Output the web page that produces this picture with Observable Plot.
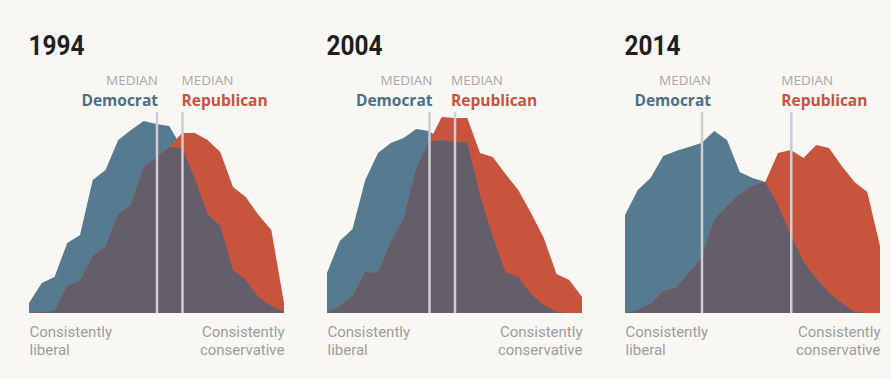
<!DOCTYPE html>
<html>
<head>
<meta charset="utf-8">
<script src="https://cdn.jsdelivr.net/npm/d3@7"></script>
<script src="https://cdn.jsdelivr.net/npm/@observablehq/plot@0.6"></script>
<style>
  html, body { margin: 0; padding: 0; background: #f8f7f3; }
  #chart { width: 891px; height: 379px; overflow: hidden; }
</style>
</head>
<body>
<div id="chart"></div>
<script>
// Ideological consistency scale (-10 = consistently liberal, +10 = consistently conservative)
const scalePoints = [-10,-9,-8,-7,-6,-5,-4,-3,-2,-1,0,1,2,3,4,5,6,7,8,9,10];
const years = [1994, 2004, 2014];

// Share of each party at each scale point (relative units)
const dem1994 = [5,15,18,35,39,66.5,71.5,86.5,91.5,96,94.5,93.5,82.5,67.5,49.5,43.5,21.5,16.5,8,3.5,0.5];
const rep1994 = [0,0.5,1,13.5,16,28.5,33,49.5,54,73,78,83,90,90,86.5,80.5,63,58,49,41.5,5];
const dem2004 = [20,36,42,66.5,80,85,87.5,92,91,86.5,85.5,85.5,59,38,20.5,18,9.5,4,0.5,0,0];
const rep2004 = [0,3.5,8.5,20.5,20,35.5,47,72.5,85.5,98,97.5,97.5,80,78,69.5,61.5,50,37.5,19.5,16.5,8];
const dem2014 = [49,61.5,67.5,78.5,81,83,85,91,86.5,70.5,67.5,65.5,54,39,25.5,17.5,10,5,0.5,0,0];
const rep2014 = [0,1.5,4.5,11,12.5,20,27.5,46.5,53.5,59.5,63.5,65.5,80,81.5,77.5,84,82.5,73.5,65.5,60.5,33.5];

// Median positions on the scale
const medianDem = [0, -2, -4];
const medianRep = [2, 0, 3];

// Text
const medianWord = "MEDIAN";
const demName = "Democrat";
const repName = "Republican";
const leftLabel = "Consistently\nliberal";
const rightLabel = "Consistently\nconservative";

// ---- build tables ----
const demSeries = [dem1994, dem2004, dem2014];
const repSeries = [rep1994, rep2004, rep2014];
const rows = years.flatMap((year, k) =>
  scalePoints.map((x, i) => ({year, x, dem: demSeries[k][i], rep: repSeries[k][i]}))
);
const medians = years.map((year, k) => ({year, dem: medianDem[k], rep: medianRep[k]}));

// layout nudges (pixels) for the party labels relative to their median line
const demNudge = {1994: 1, 2004: 3, 2014: 9};
const repNudge = {1994: -1, 2004: -4, 2014: -10};

const colors = {dem: "#567a8f", rep: "#c9543e", both: "#645e6b", rule: "#cdcdd3",
  demText: "#4d6f85", repText: "#c5533f", median: "#a9a9a9", axis: "#9d9d9d", title: "#1f1f1f"};

const labelMarks = years.flatMap(year => {
  const m = medians.filter(d => d.year === year);
  return [
    Plot.text(m, {fx: "year", x: "dem", text: () => medianWord, frameAnchor: "top", textAnchor: "end",
      lineAnchor: "top", dx: demNudge[year], dy: -38, fontSize: 13.5, fill: colors.median}),
    Plot.text(m, {fx: "year", x: "dem", text: () => demName, frameAnchor: "top", textAnchor: "end",
      lineAnchor: "top", dx: demNudge[year], dy: -19, fontSize: 15.5, fontWeight: "bold", fill: colors.demText}),
    Plot.text(m, {fx: "year", x: "rep", text: () => medianWord, frameAnchor: "top", textAnchor: "start",
      lineAnchor: "top", dx: repNudge[year], dy: -38, fontSize: 13.5, fill: colors.median}),
    Plot.text(m, {fx: "year", x: "rep", text: () => repName, frameAnchor: "top", textAnchor: "start",
      lineAnchor: "top", dx: repNudge[year], dy: -19, fontSize: 15.5, fontWeight: "bold", fill: colors.repText})
  ];
});

const axisFont = "Roboto, 'DejaVu Sans', sans-serif";

const chart = Plot.plot({
  width: 891,
  height: 379,
  marginLeft: 28,
  marginRight: 11,
  marginTop: 113,
  marginBottom: 66,
  style: {background: "#f8f7f3", fontFamily: "'Open Sans', 'DejaVu Sans', sans-serif", overflow: "visible"},
  fx: {domain: years, axis: null, paddingInner: 0.1457, paddingOuter: 0},
  x: {domain: [-10, 10], axis: null},
  y: {domain: [0, 100], axis: null},
  marks: [
    Plot.areaY(rows, {fx: "year", x: "x", y: "dem", fill: colors.dem, curve: "linear"}),
    Plot.areaY(rows, {fx: "year", x: "x", y: "rep", fill: colors.rep, curve: "linear"}),
    Plot.areaY(rows, {fx: "year", x: "x", y: d => Math.min(d.dem, d.rep), fill: colors.both, curve: "linear"}),
    Plot.ruleX(medians, {fx: "year", x: "dem", stroke: colors.rule, strokeWidth: 2.5, insetTop: -1}),
    Plot.ruleX(medians, {fx: "year", x: "rep", stroke: colors.rule, strokeWidth: 2.5, insetTop: -1}),
    Plot.text(medians, {fx: "year", text: d => String(d.year), frameAnchor: "top-left", textAnchor: "start",
      lineAnchor: "top", dx: -1, dy: -78, fontSize: 28, fontWeight: "bold", fill: colors.title,
      fontFamily: "Roboto, 'DejaVu Sans', sans-serif"}),
    ...labelMarks,
    Plot.text(medians, {fx: "year", text: () => leftLabel, frameAnchor: "bottom-left", textAnchor: "start",
      lineAnchor: "top", dy: 11, fontSize: 15, lineHeight: 1.2, fill: colors.axis, fontFamily: axisFont}),
    Plot.text(medians, {fx: "year", text: () => rightLabel, frameAnchor: "bottom-right", textAnchor: "end",
      lineAnchor: "top", dy: 11, fontSize: 15, lineHeight: 1.2, fill: colors.axis, fontFamily: axisFont})
  ]
});

// condense the year titles
d3.select(chart).selectAll("text").each(function() {
  if (/^\d{4}$/.test(this.textContent.trim())) {
    d3.select(this).attr("textLength", 56).attr("lengthAdjust", "spacingAndGlyphs");
  }
});

document.getElementById("chart").appendChild(chart);
</script>
</body>
</html>
